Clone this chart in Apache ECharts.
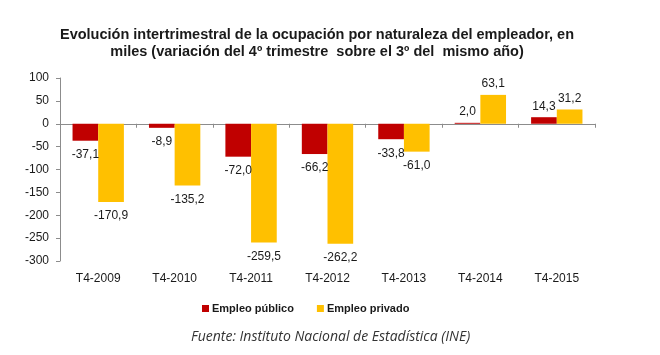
<!DOCTYPE html>
<html><head><meta charset="utf-8">
<script src="https://cdn.jsdelivr.net/npm/echarts@6/dist/echarts.min.js"></script>
<style>html,body{margin:0;padding:0;background:#fff}#c{width:660px;height:355px}</style>
</head><body><div id="c"></div>
<script>
const categories = ['T4-2009','T4-2010','T4-2011','T4-2012','T4-2013','T4-2014','T4-2015'];
const empleoPublico = [-37.1, -8.9, -72.0, -66.2, -33.8, 2.0, 14.3];
const empleoPrivado = [-170.9, -135.2, -259.5, -262.2, -61.0, 63.1, 31.2];
const yTicks = [-300, -250, -200, -150, -100, -50, 0, 50, 100];
const seriesNames = ['Empleo público', 'Empleo privado'];

const fmt = v => v.toFixed(1).replace('.', ',');
const labelFont = {fontFamily: 'Liberation Sans', fontSize: 12, color: '#1a1a1a'};
function mk(vals){
  return vals.map(v => ({value: v, label: {position: v < 0 ? 'bottom' : 'top', distance: v < 0 ? 8 : 5}}));
}
const chart = echarts.init(document.getElementById('c'), null, {renderer: 'canvas'});
chart.setOption({
  animation: false,
  backgroundColor: '#ffffff',
  title: {
    text: 'Evolución intertrimestral de la ocupación por naturaleza del empleador, en\nmiles (variación del 4º trimestre  sobre el 3º del  mismo año)',
    left: 312, top: 22, textAlign: 'center',
    textStyle: {fontFamily: 'Liberation Sans', fontWeight: 'bold', fontSize: 14.5, color: '#1a1a1a', lineHeight: 16.5}
  },
  legend: {
    data: seriesNames, top: 298, left: 197, itemWidth: 7, itemHeight: 7, itemGap: 23,
    icon: 'rect',
    textStyle: {fontFamily: 'Liberation Sans', fontWeight: 'bold', fontSize: 11, color: '#1a1a1a', padding: [0,0,0,-2]}
  },
  graphic: [{
    type: 'text', left: 191, top: 330,
    style: {text: 'Fuente: Instituto Nacional de Estadística (INE)', font: 'italic 14px "Open Sans"', fill: '#333'}
  }],
  grid: {left: 60, right: 65, top: 78, bottom: 94, containLabel: false},
  xAxis: [{
    type: 'category', data: categories, position: 'bottom',
    axisLine: {show: false, onZero: false}, axisTick: {show: false},
    axisLabel: {fontFamily: 'Liberation Sans', fontSize: 12, color: '#1a1a1a', margin: 12}
  }, {
    type: 'category', data: categories, position: 'top',
    axisLine: {show: true, onZero: true, lineStyle: {color: '#8c8c8c', width: 1}},
    axisTick: {show: true, inside: true, length: 4, lineStyle: {color: '#8c8c8c'}},
    axisLabel: {show: false}
  }],
  yAxis: {
    type: 'value', min: -300, max: 100, interval: 50,
    axisLine: {show: true, lineStyle: {color: '#8c8c8c'}},
    axisTick: {show: true, length: 4, lineStyle: {color: '#8c8c8c'}},
    splitLine: {show: false},
    axisLabel: {fontFamily: 'Liberation Sans', fontSize: 12, color: '#1a1a1a', margin: 11}
  },
  series: [{
    name: seriesNames[0], type: 'bar', xAxisIndex: 0, data: mk(empleoPublico),
    itemStyle: {color: '#C00000'}, barWidth: '33.6%', barGap: '0%', barCategoryGap: '33%',
    label: Object.assign({show: true, formatter: p => fmt(p.value)}, labelFont)
  }, {
    name: seriesNames[1], type: 'bar', xAxisIndex: 0, data: mk(empleoPrivado),
    itemStyle: {color: '#FFC000'}, barWidth: '33.6%', barGap: '0%',
    label: Object.assign({show: true, formatter: p => fmt(p.value)}, labelFont)
  }]
});
</script></body></html>
